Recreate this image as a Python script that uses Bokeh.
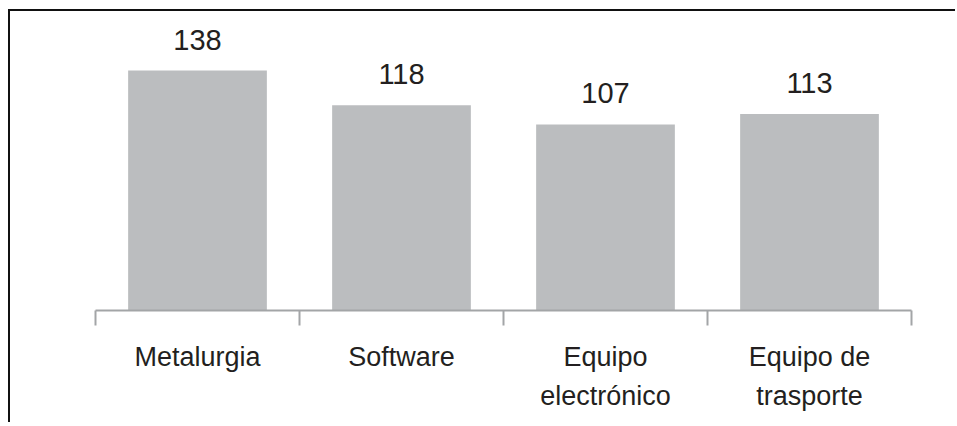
from bokeh.plotting import figure
from bokeh.models import (FactorRange, Range1d, LinearAxis, FixedTicker,
                          ColumnDataSource)
from bokeh.core.properties import value
from bokeh.embed import file_html
from bokeh.resources import INLINE

categories = ["Metalurgia", "Software", "Equipo electrónico", "Equipo de trasporte"]
tick_labels = ["Metalurgia", "Software", "Equipo\nelectrónico", "Equipo de\ntrasporte"]
values = [138, 118, 107, 113]

FONT = "Liberation Sans"
TEXT_COLOR = "#231f20"
BAR_COLOR = "#bbbdbf"
AXIS_COLOR = "#a3a5a7"

src = ColumnDataSource(dict(cat=categories, val=values, lab=[str(v) for v in values]))

p = figure(width=947, height=413, output_backend="svg", toolbar_location=None,
           x_range=FactorRange(factors=categories), y_range=Range1d(0, 171.35),
           x_axis_location=None, y_axis_location=None,
           min_border_left=85, min_border_right=46, min_border_top=1,
           min_border_bottom=114)
p.margin = (9, 0, 0, 8)
p.styles = {"border-left": "2px solid #111111", "border-top": "2px solid #111111"}
p.outline_line_color = None
p.xgrid.visible = False
p.ygrid.visible = False
p.background_fill_color = "white"
p.border_fill_color = "white"

p.vbar(x="cat", top="val", width=0.68, source=src, fill_color=BAR_COLOR,
       line_color=None)
p.text(x="cat", y="val", text="lab", source=src, text_align="center",
       text_baseline="alphabetic", y_offset=-31, text_font=value(FONT),
       text_font_size="29px", text_color=TEXT_COLOR)

# factor range synthetic coordinates: category i spans [i, i+1]
centers = [i + 0.5 for i in range(len(categories))]
bounds = [float(i) for i in range(len(categories) + 1)]
ax = LinearAxis(ticker=FixedTicker(ticks=centers, minor_ticks=bounds))
ax.major_label_overrides = {c: t for c, t in zip(centers, tick_labels)}
ax.axis_line_color = AXIS_COLOR
ax.axis_line_width = 2
ax.major_tick_line_color = None
ax.major_tick_out = 0
ax.major_tick_in = 0
ax.minor_tick_line_color = AXIS_COLOR
ax.minor_tick_line_width = 2
ax.minor_tick_out = 15
ax.minor_tick_in = 0
ax.major_label_standoff = 16
ax.major_label_text_font = FONT
ax.major_label_text_font_size = "27px"
ax.major_label_text_line_height = 1.3
ax.major_label_text_color = TEXT_COLOR
p.add_layout(ax, "below")

open("out.html", "w").write(file_html(p, INLINE))
